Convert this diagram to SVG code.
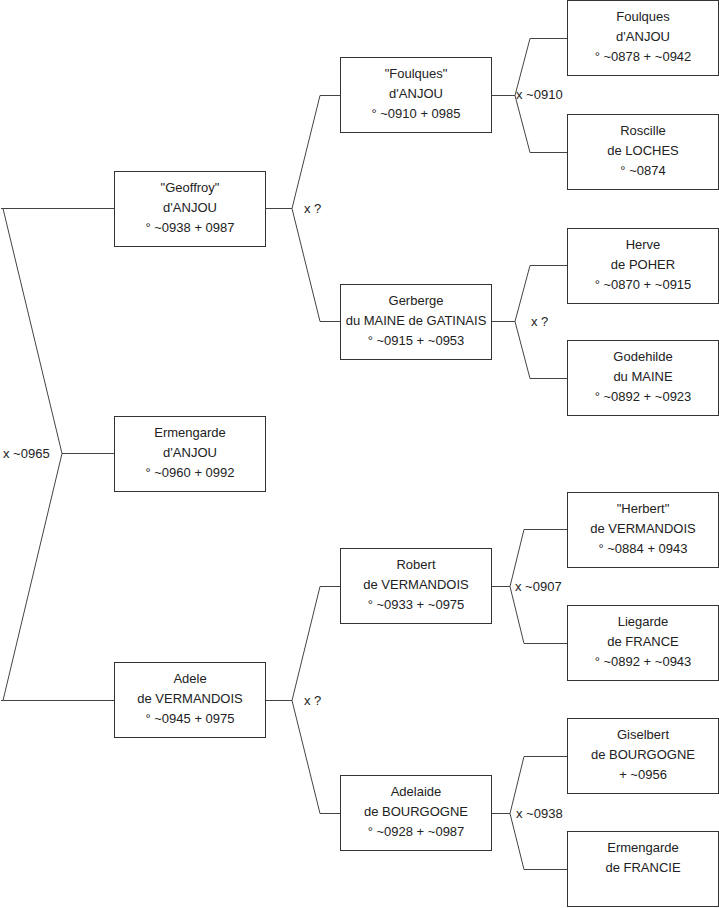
<svg xmlns="http://www.w3.org/2000/svg" width="719" height="908" viewBox="0 0 719 908">
<style>
rect.box{fill:#fff;stroke:#333;stroke-width:1}
.c{fill:none;stroke:#444;stroke-width:1}
text{font-family:"Liberation Sans",Arial,sans-serif;font-size:13px;fill:#222}
.t{text-anchor:middle}
</style>
<rect width="719" height="908" fill="#fff"/>
<g id="connectors">
<path class="c" d="M114,208.5 H1 M3,208.5 L62,453.5 L3,700.5 M1,700.5 H114 M62,453.5 H114"/>
<path class="c" d="M265.5,208.5 H292 M341,95.5 H320 L292,208.5 L320,321.5 H341"/>
<path class="c" d="M265.5,700.5 H292 M341,586.5 H320 L292,700.5 L320,813.5 H341"/>
<path class="c" d="M491.5,95.5 H515 M567.5,38.5 H530 L515,95.5 L530,152.5 H567.5"/>
<path class="c" d="M491.5,321.5 H515 M567.5,265.5 H530 L515,321.5 L530,378.5 H567.5"/>
<path class="c" d="M491.5,586.5 H510 M567.5,529.5 H524 L510,586.5 L524,643.5 H567.5"/>
<path class="c" d="M491.5,813.5 H510 M567.5,756.5 H524 L510,813.5 L524,869.5 H567.5"/>
<text x="3" y="458">x ~0965</text>
<text x="304" y="213">x ?</text>
<text x="304" y="705">x ?</text>
<text x="516" y="99">x ~0910</text>
<text x="531" y="326">x ?</text>
<text x="515" y="591">x ~0907</text>
<text x="516" y="818">x ~0938</text>
</g>
<g id="geoffroy"><rect class="box" x="114.5" y="171.5" width="151" height="75"/>
<text class="t" x="190" y="192">"Geoffroy"</text><text class="t" x="190" y="212">d'ANJOU</text><text class="t" x="190" y="231.5">° ~0938 + 0987</text></g>
<g id="ermengarde-anjou"><rect class="box" x="114.5" y="416.5" width="151" height="75"/>
<text class="t" x="190" y="437">Ermengarde</text><text class="t" x="190" y="457">d'ANJOU</text><text class="t" x="190" y="476.5">° ~0960 + 0992</text></g>
<g id="adele"><rect class="box" x="114.5" y="662.5" width="151" height="75"/>
<text class="t" x="190" y="683">Adele</text><text class="t" x="190" y="703">de VERMANDOIS</text><text class="t" x="190" y="722.5">° ~0945 + 0975</text></g>
<g id="foulques2"><rect class="box" x="340.5" y="57.5" width="151" height="75"/>
<text class="t" x="416" y="78">"Foulques"</text><text class="t" x="416" y="98">d'ANJOU</text><text class="t" x="416" y="117.5">° ~0910 + 0985</text></g>
<g id="gerberge"><rect class="box" x="340.5" y="284.5" width="151" height="75"/>
<text class="t" x="416" y="305">Gerberge</text><text class="t" x="416" y="325">du MAINE de GATINAIS</text><text class="t" x="416" y="344.5">° ~0915 + ~0953</text></g>
<g id="robert"><rect class="box" x="340.5" y="548.5" width="151" height="75"/>
<text class="t" x="416" y="569">Robert</text><text class="t" x="416" y="589">de VERMANDOIS</text><text class="t" x="416" y="608.5">° ~0933 + ~0975</text></g>
<g id="adelaide"><rect class="box" x="340.5" y="775.5" width="151" height="75"/>
<text class="t" x="416" y="796">Adelaide</text><text class="t" x="416" y="816">de BOURGOGNE</text><text class="t" x="416" y="835.5">° ~0928 + ~0987</text></g>
<g id="foulques3"><rect class="box" x="567.5" y="0.5" width="151" height="75"/>
<text class="t" x="643" y="21">Foulques</text><text class="t" x="643" y="41">d'ANJOU</text><text class="t" x="643" y="60.5">° ~0878 + ~0942</text></g>
<g id="roscille"><rect class="box" x="567.5" y="114.5" width="151" height="75"/>
<text class="t" x="643" y="135">Roscille</text><text class="t" x="643" y="155">de LOCHES</text><text class="t" x="643" y="174.5">° ~0874</text></g>
<g id="herve"><rect class="box" x="567.5" y="228.5" width="151" height="75"/>
<text class="t" x="643" y="249">Herve</text><text class="t" x="643" y="269">de POHER</text><text class="t" x="643" y="288.5">° ~0870 + ~0915</text></g>
<g id="godehilde"><rect class="box" x="567.5" y="340.5" width="151" height="75"/>
<text class="t" x="643" y="361">Godehilde</text><text class="t" x="643" y="381">du MAINE</text><text class="t" x="643" y="400.5">° ~0892 + ~0923</text></g>
<g id="herbert"><rect class="box" x="567.5" y="492.5" width="151" height="75"/>
<text class="t" x="643" y="513">"Herbert"</text><text class="t" x="643" y="533">de VERMANDOIS</text><text class="t" x="643" y="552.5">° ~0884 + 0943</text></g>
<g id="liegarde"><rect class="box" x="567.5" y="605.5" width="151" height="75"/>
<text class="t" x="643" y="626">Liegarde</text><text class="t" x="643" y="646">de FRANCE</text><text class="t" x="643" y="665.5">° ~0892 + ~0943</text></g>
<g id="giselbert"><rect class="box" x="567.5" y="718.5" width="151" height="75"/>
<text class="t" x="643" y="739">Giselbert</text><text class="t" x="643" y="759">de BOURGOGNE</text><text class="t" x="643" y="778.5">+ ~0956</text></g>
<g id="ermengarde-francie"><rect class="box" x="567.5" y="831.5" width="151" height="75"/>
<text class="t" x="643" y="852">Ermengarde</text><text class="t" x="643" y="872">de FRANCIE</text></g>
</svg>
